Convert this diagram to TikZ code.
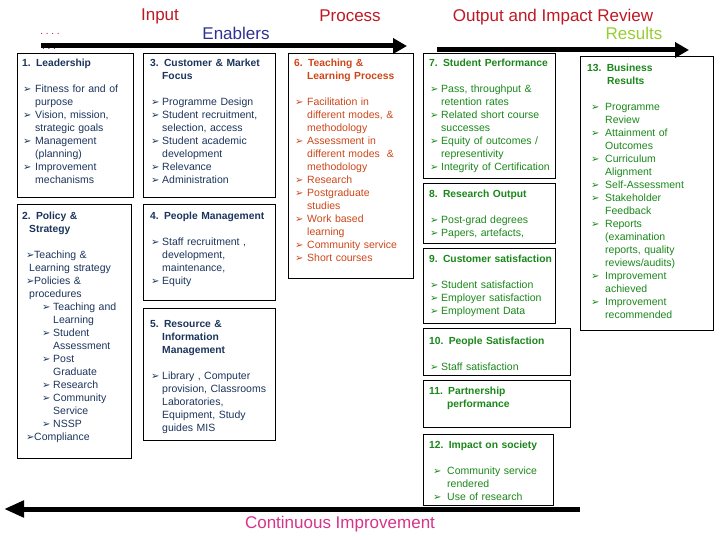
\documentclass[tikz,border=0pt]{standalone}
\usepackage{fontspec}
\setmainfont{Liberation Sans}
\newfontfamily\bulfont{DejaVu Sans}
\usetikzlibrary{arrows.meta, positioning}

\definecolor{inputred}{RGB}{190,25,35}
\definecolor{enabblue}{RGB}{46,49,146}
\definecolor{resgreen}{RGB}{153,204,51}
\definecolor{cipink}{RGB}{214,51,138}
\definecolor{enabtext}{RGB}{28,52,92}
\definecolor{proctext}{RGB}{205,70,25}
\definecolor{outtext}{RGB}{25,135,25}

% bullets and headings inside the boxes
\newcommand{\bul}{{\bulfont\fontsize{10}{10}\selectfont ➢}}
\newcommand{\hd}[2][0pt]{\par\hangindent=#1\hangafter=1\noindent{\fontsize{10.3}{13}\selectfont\bfseries #2}}
\newcommand{\itm}[2][13pt]{\par\hangindent=#1\hangafter=1\noindent\hspace*{1pt}\makebox[\dimexpr#1-1pt\relax][l]{\bul}#2}
\newcommand{\pitm}[1]{\par\hangindent=7pt\hangafter=1\noindent\hspace*{4pt}\makebox[8pt][l]{\bul}#1}
\newcommand{\sitm}[1]{\par\hangindent=31pt\hangafter=1\noindent\hspace*{20pt}\makebox[11pt][l]{\bul}#1}
\newcommand{\witm}[1]{\par\hangindent=18pt\hangafter=1\noindent\hspace*{4pt}\makebox[14pt][l]{\bul}#1}
\newcommand{\gap}{\par\vspace{13pt}}

\tikzset{
  box/.style={draw, line width=0.8pt, anchor=north west, inner sep=0pt},
  boxtxt/.style={anchor=north west, inner sep=0pt, text width=150pt, align=left,
    font=\fontsize{10.5}{13}\selectfont},
  title/.style={font=\fontsize{17}{20}\selectfont},
  bigarrow/.style={line width=5pt, -{Triangle[length=14pt,width=15pt]}}
}

\begin{document}
\begin{tikzpicture}[x=1pt, y=-1pt]
    \useasboundingbox (0,0) rectangle (720,540);

    % column titles
    \node[title, text=inputred] (input) at (160,16) {Input};
    \node[title, text=inputred] (process) at (350,16) {Process};
    \node[title, text=inputred] (output) at (553,17) {Output and Impact Review};
    \node[title, text=enabblue] (enablers) at (236,33) {Enablers};
    \node[title, text=resgreen] (results) at (634,33) {Results};
    \node[title, text=cipink] (contimp) at (340,524) {Continuous Improvement};
    \node[font=\fontsize{10}{10}\selectfont, text=inputred] (dotsa) at (50,34) {.\ .\ .\ .};
    \node[font=\fontsize{10}{10}\selectfont, text=enabtext] (dotsb) at (49,49) {.\ .\ .};

    % enablers
    \node[box, minimum width=116pt, minimum height=144pt] (lead) at (17,53) {};
    \node[boxtxt, text=enabtext] (leadtxt) at ([xshift=5pt,yshift=0pt]lead.north west) {%
      \hd{1. Leadership}\gap
      \itm{Fitness for and of\newline purpose}
      \itm{Vision, mission,\newline strategic goals}
      \itm{Management\newline (planning)}
      \itm{Improvement\newline mechanisms}\par};

    \node[box, minimum width=114pt, minimum height=254pt] (policy) at (17,204) {};
    \node[boxtxt, text=enabtext] (policytxt) at ([xshift=5pt,yshift=-2pt]policy.north west) {%
      \hd[7pt]{2. Policy \&\newline Strategy}\gap
      \pitm{Teaching \&\newline Learning strategy}
      \pitm{Policies \&\newline procedures}
      \sitm{Teaching and\newline Learning}
      \sitm{Student\newline Assessment}
      \sitm{Post\newline Graduate}
      \sitm{Research}
      \sitm{Community\newline Service}
      \sitm{NSSP}
      \pitm{Compliance}\par};

    \node[box, minimum width=132pt, minimum height=144pt] (cust) at (143,53) {};
    \node[boxtxt, text=enabtext] (custtxt) at ([xshift=7pt,yshift=0pt]cust.north west) {%
      \hd[12pt]{3. Customer \& Market\newline Focus}\gap
      \itm[12pt]{Programme Design}
      \itm[12pt]{Student recruitment,\newline selection, access}
      \itm[12pt]{Student academic\newline development}
      \itm[12pt]{Relevance}
      \itm[12pt]{Administration}\par};

    \node[box, minimum width=132pt, minimum height=96pt] (people) at (143,204) {};
    \node[boxtxt, text=enabtext] (peopletxt) at ([xshift=7pt,yshift=-2pt]people.north west) {%
      \hd{4. People Management}\gap
      \itm[12pt]{Staff recruitment ,\newline development,\newline maintenance,}
      \itm[12pt]{Equity}\par};

    \node[box, minimum width=132pt, minimum height=132pt] (resource) at (143,308) {};
    \node[boxtxt, text=enabtext] (resourcetxt) at ([xshift=7pt,yshift=-6pt]resource.north west) {%
      \hd[12pt]{5. Resource \&\newline Information\newline Management}\gap
      \itm[12pt]{Library , Computer\newline provision, Classrooms\newline Laboratories,\newline Equipment, Study\newline guides MIS}\par};

    % process
    \node[box, minimum width=125pt, minimum height=225pt] (teach) at (288,53) {};
    \node[boxtxt, text=proctext] (teachtxt) at ([xshift=6pt,yshift=0pt]teach.north west) {%
      \hd[13pt]{6. Teaching \&\newline Learning Process}\gap
      \itm{Facilitation in\newline different modes, \&\newline methodology}
      \itm{Assessment in\newline different modes \ \&\newline methodology}
      \itm{Research}
      \itm{Postgraduate\newline studies}
      \itm{Work based\newline learning}
      \itm{Community service}
      \itm{Short courses}\par};

    % output and impact review
    \node[box, minimum width=132pt, minimum height=125pt] (stud) at (423,53) {};
    \node[boxtxt, text=outtext] (studtxt) at ([xshift=6pt,yshift=0pt]stud.north west) {%
      \hd{7. Student Performance}\gap
      \itm[12pt]{Pass, throughput \&\newline retention rates}
      \itm[12pt]{Related short course\newline successes}
      \itm[12pt]{Equity of outcomes /\newline representivity}
      \itm[12pt]{Integrity of Certification}\par};

    \node[box, minimum width=132pt, minimum height=60pt] (research) at (423,183) {};
    \node[boxtxt, text=outtext] (researchtxt) at ([xshift=6pt,yshift=-1pt]research.north west) {%
      \hd{8. Research Output}\gap
      \itm[12pt]{Post-grad degrees}
      \itm[12pt]{Papers, artefacts,}\par};

    \node[box, minimum width=132pt, minimum height=75pt] (custsat) at (423,248) {};
    \node[boxtxt, text=outtext] (custsattxt) at ([xshift=6pt,yshift=-1pt]custsat.north west) {%
      \hd{9. Customer satisfaction}\gap
      \itm[12pt]{Student satisfaction}
      \itm[12pt]{Employer satisfaction}
      \itm[12pt]{Employment Data}\par};

    \node[box, minimum width=147pt, minimum height=47pt] (peoplesat) at (423,328) {};
    \node[boxtxt, text=outtext] (peoplesattxt) at ([xshift=6pt,yshift=-3pt]peoplesat.north west) {%
      \hd{10. People Satisfaction}\gap
      \itm[12pt]{Staff satisfaction}\par};

    \node[box, minimum width=147pt, minimum height=47pt] (partner) at (423,380) {};
    \node[boxtxt, text=outtext] (partnertxt) at ([xshift=6pt,yshift=-1pt]partner.north west) {%
      \hd[18pt]{11. Partnership\newline performance}\par};

    \node[box, minimum width=130pt, minimum height=71pt] (impact) at (423,434) {};
    \node[boxtxt, text=outtext] (impacttxt) at ([xshift=6pt,yshift=-1pt]impact.north west) {%
      \hd{12. Impact on society}\gap
      \witm{Community service\newline rendered}
      \witm{Use of research}\par};

    \node[box, minimum width=133pt, minimum height=274pt] (business) at (580,56) {};
    \node[boxtxt, text=outtext] (businesstxt) at ([xshift=7pt,yshift=-2pt]business.north west) {%
      \hd[20pt]{13. Business\newline Results}\gap
      \witm{Programme\newline Review}
      \witm{Attainment of\newline Outcomes}
      \witm{Curriculum\newline Alignment}
      \witm{Self-Assessment}
      \witm{Stakeholder\newline Feedback}
      \witm{Reports\newline (examination\newline reports, quality\newline reviews/audits)}
      \witm{Improvement\newline achieved}
      \witm{Improvement\newline recommended}\par};

    % flow arrows
    \coordinate (flowa) at (41,46);
    \coordinate (flowb) at (407,46);
    \coordinate (flowc) at (437,50);
    \coordinate (flowd) at (689,50);
    \coordinate (loopa) at (580,509);
    \coordinate (loopb) at (4,509);
    \draw[bigarrow] (flowa) -- (flowb);
    \draw[bigarrow] (flowc) -- (flowd);
    \draw[bigarrow, -{Triangle[length=20pt,width=16pt]}] (loopa) -- (loopb);
\end{tikzpicture}
\end{document}
